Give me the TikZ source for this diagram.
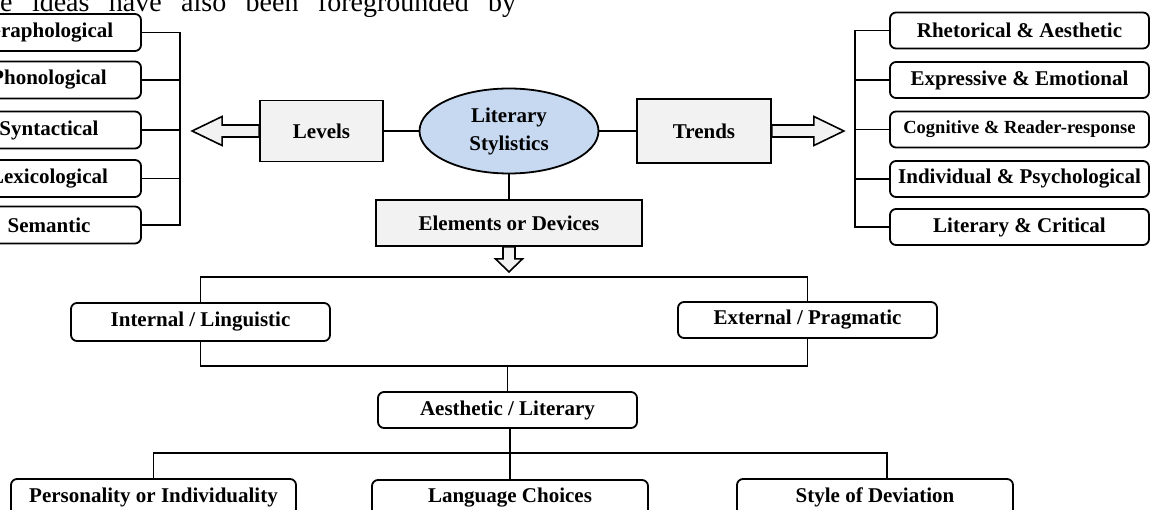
\documentclass[tikz,border=0pt]{standalone}
\usepackage{fontspec}
\setmainfont{Liberation Serif}
\usetikzlibrary{shapes.geometric,calc}
\definecolor{boxgray}{HTML}{F2F2F2}
\definecolor{ellblue}{HTML}{C6D9F1}
\begin{document}
\begin{tikzpicture}[x=1pt,y=-1pt,
  lbl/.style={font=\bfseries\fontsize{21}{25}\selectfont, align=center, inner sep=1pt},
  rbox/.style={lbl, draw, line width=1.8pt, rounded corners=6pt},
  gbox/.style={lbl, draw, line width=1.8pt, fill=boxgray},
  lbox/.style={rbox, minimum width=184pt, minimum height=37pt},
  tbox/.style={rbox, minimum width=259pt, minimum height=36pt},
  conn/.style={line width=1.2pt},
  barrow/.style={draw, line width=1.6pt, fill=boxgray, line join=miter},
]
\useasboundingbox (0,0) rectangle (1151,510);
\clip (0,0) rectangle (1151,510);

% intro text cut from a page
\node[anchor=base west, inner sep=0pt, font=\fontsize{28}{30}\selectfont] (intro) at (0,11.5)
  {\makebox[516pt][s]{e ideas have also been foregrounded by}};

% left column (levels)
\node[lbox] (g1) at (49,32.5) {Graphological};
\node[lbox] (g2) at (49,80) {Phonological};
\node[lbox] (g3) at (49,130) {Syntactical};
\node[lbox] (g4) at (49,178.5) {Lexicological};
\node[lbox] (g5) at (49,225) {Semantic};
\coordinate (lbar) at (180,0);
\draw[conn] (g1.east) -- (g1.east -| lbar) -- (g5.east -| lbar) -- (g5.east);
\foreach \n in {g2,g3,g4} \draw[conn] (\n.east) -- (\n.east -| lbar);

% right column (trends)
\node[tbox] (t1) at (1019.5,30.5) {Rhetorical \& Aesthetic};
\node[tbox] (t2) at (1019.5,80) {Expressive \& Emotional};
\node[tbox, font=\bfseries\fontsize{18.5}{22}\selectfont] (t3) at (1019.5,129.5) {Cognitive \& Reader-response};
\node[tbox] (t4) at (1019.5,179) {Individual \& Psychological};
\node[tbox] (t5) at (1019.5,227) {Literary \& Critical};
\coordinate (rbar) at (855,0);
\draw[conn] (t1.west) -- (t1.west -| rbar) -- (t5.west -| rbar) -- (t5.west);
\foreach \n in {t2,t3,t4} \draw[conn] (\n.west) -- (\n.west -| rbar);

% centre
\node[ellipse, draw, line width=1.8pt, fill=ellblue, minimum width=179pt, minimum height=85pt,
  inner sep=0pt, align=center, font=\bfseries\fontsize{21}{28}\selectfont] (ls) at (509,131) {Literary\\Stylistics};
\node[gbox, minimum width=123pt, minimum height=61pt] (levels) at (321.5,131) {Levels};
\node[gbox, minimum width=134pt, minimum height=64pt] (trends) at (704,131) {Trends};
\node[gbox, minimum width=266pt, minimum height=46pt] (elements) at (509,223) {Elements or Devices};
\draw[conn] (levels.east) -- (ls.west);
\draw[conn] (ls.east) -- (trends.west);
\draw[conn] (ls.south) -- (elements.north);

% block arrows
\draw[barrow] (levels.west) ++(0,-6) -- ++(-37,0) -- ++(0,-8.5) -- ++(-30,14.5) -- ++(30,14.5) -- ++(0,-8.5) -- ++(37,0) -- cycle;
\draw[barrow] (trends.east) ++(0,-6) -- ++(42,0) -- ++(0,-8.5) -- ++(30,14.5) -- ++(-30,14.5) -- ++(0,-8.5) -- ++(-42,0) -- cycle;
\draw[barrow] (elements.south) ++(-6,0) -- ++(0,12) -- ++(-7.5,0) -- ++(13.5,13) -- ++(13.5,-13) -- ++(-7.5,0) -- ++(0,-12) -- cycle;

% elements split
\node[tbox, minimum height=38pt] (internal) at (200.5,322) {Internal / Linguistic};
\node[tbox] (external) at (807.5,320) {External / Pragmatic};
\node[tbox] (aesthetic) at (507.5,410) {Aesthetic / Literary};
\coordinate (ftop) at (508,277);
\coordinate (fbot) at (508,366);
\draw[conn] (internal.north) -- (internal.north |- ftop) -- (external.north |- ftop) -- (external.north);
\draw[conn] (internal.south) -- (internal.south |- fbot) -- (external.south |- fbot) -- (external.south);
\draw[conn] (aesthetic.north) -- (aesthetic.north |- fbot);

% bottom row
\node[rbox, minimum width=285pt, minimum height=36pt] (personality) at (153.5,497) {Personality or Individuality};
\node[rbox, minimum width=276pt, minimum height=36pt] (language) at (510,498) {Language Choices};
\node[rbox, minimum width=276pt, minimum height=36pt] (style) at (875,497) {Style of Deviation};
\coordinate (bbar) at (510,453);
\draw[conn] (language.north |- aesthetic.south) -- (language.north);
\draw[conn] (personality.north) -- (personality.north |- bbar) -- ([xshift=12pt]style.north |- bbar) -- ([xshift=12pt]style.north);
\end{tikzpicture}
\end{document}
